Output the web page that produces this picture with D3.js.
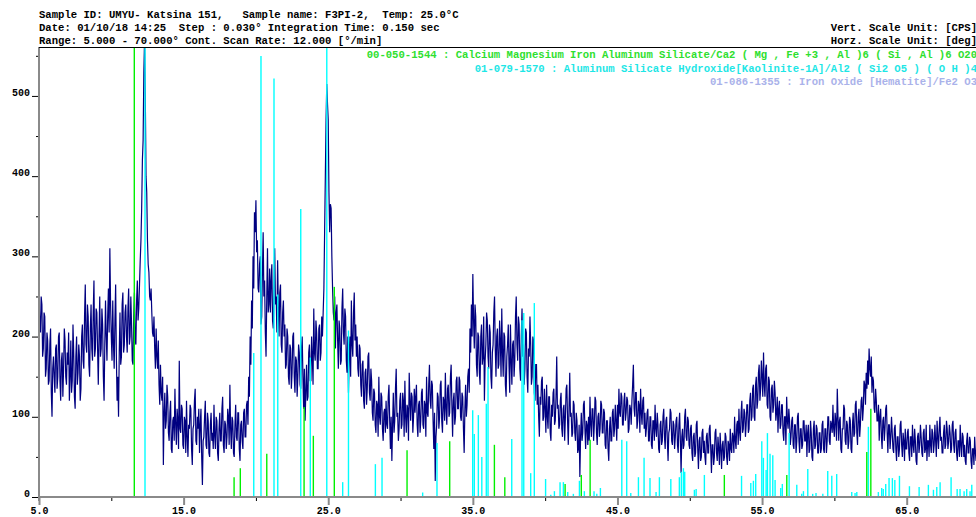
<!DOCTYPE html>
<html>
<head>
<meta charset="utf-8">
<script src="https://cdn.jsdelivr.net/npm/d3@7"></script>
<style>
  html, body { margin: 0; padding: 0; background: #fff; }
  svg { display: block; }
  text { font-family: "Liberation Mono", "DejaVu Sans Mono", monospace; }
</style>
</head>
<body>
<svg id="chart" width="976" height="517"></svg>
<script>
// Scan: readings every 0.05 deg; one row per whole degree of 2-theta (5 .. 69), plus the 70.0 end point
const firstDegree = 5;
const readingStep = 0.05;

// Counts (CPS) per degree row
const countRows = [
  [255,215,205,250,240,175,185,230,225,150,160,205,195,140,145,190,210,130,100,160], // 5
  [175,150,130,185,190,135,150,200,205,145,120,170,180,125,160,210,195,150,140,180], // 6
  [165,205,120,150,195,130,145,215,180,125,110,175,200,140,155,190,175,120,135,200], // 7
  [215,170,160,225,265,190,180,240,225,165,150,210,240,185,170,230,270,175,185,235], // 8
  [230,185,140,200,250,175,185,235,215,150,120,190,245,200,170,225,260,205,310,240], // 9
  [200,170,245,190,160,220,265,175,120,150,100,180,230,165,175,240,255,180,190,230], // 10
  [240,200,180,235,260,190,200,250,215,170,165,225,255,195,190,245,270,220,235,265], // 11
  [295,320,360,420,445,530,570,500,400,380,320,290,280,250,245,260,230,205,200,225], // 12
  [185,160,210,175,160,195,140,115,165,130,120,150,40,105,130,85,95,140,125,80],     // 13
  [70,105,120,60,55,95,100,70,135,90,65,110,95,60,170,85,80,115,110,65],             // 14
  [60,100,95,55,120,75,50,90,85,115,110,60,40,85,90,120,135,70,65,100],              // 15
  [85,110,55,90,110,50,15,70,75,100,120,65,60,105,95,55,50,90,105,70],               // 16
  [80,60,115,75,60,100,95,55,45,85,105,70,70,110,125,65,55,95,90,60],                // 17
  [75,110,100,65,140,85,60,100,95,55,50,90,115,75,70,105,105,60,45,90],              // 18
  [95,70,60,105,110,75,75,115,120,90,150,125,200,165,245,210,300,260,355,330],       // 19
  [370,305,320,260,255,290,300,215,225,280,330,250,270,205,175,250,310,230,240,285], // 20
  [230,270,290,220,210,260,310,240,250,205,295,235,200,255,265,190,180,230,245,200], // 21
  [215,160,165,210,200,150,140,190,185,135,155,200,205,150,130,175,170,125,150,190], // 22
  [180,140,135,185,200,150,110,160,95,130,165,120,125,180,190,145,145,200,175,140],  // 23
  [235,180,170,220,205,160,160,210,215,170,180,225,200,230,260,330,400,470,515,490], // 24
  [470,380,330,365,360,300,260,230,220,250,185,230,240,195,160,220,210,165,170,235], // 25
  [260,205,190,235,225,170,155,200,130,175,200,150,245,190,175,230,255,195,215,175], // 26
  [200,160,150,190,185,140,125,165,170,120,110,155,160,115,135,175,180,130,120,160], // 27
  [145,105,95,135,130,90,80,120,115,75,150,100,90,130,125,85,70,105,110,80],         // 28
  [120,90,85,125,140,95,60,100,45,90,130,80,95,135,160,100,105,70,85,120],           // 29
  [130,85,90,130,120,75,145,100,80,115,110,70,155,120,95,130,125,80,100,135],        // 30
  [105,125,140,90,75,115,120,80,95,130,135,90,85,120,115,75,150,105,100,140],        // 31
  [165,120,110,145,140,95,60,105,20,75,90,130,125,85,100,140,145,95,80,125],         // 32
  [120,95,155,110,90,135,140,100,105,150,165,115,75,120,130,90,100,145,150,110],     // 33
  [110,150,145,100,95,130,125,85,55,110,140,100,115,150,160,130,210,180,240,200],    // 34
  [278,220,185,240,225,165,150,205,200,155,140,200,215,165,175,225,120,170,190,230], // 35
  [220,175,160,215,205,150,135,180,190,230,250,185,150,200,210,160,165,220,195,150], // 36
  [235,180,150,205,200,140,125,175,190,215,165,130,215,170,140,190,195,150,170,225], // 37
  [250,190,170,225,215,160,145,200,235,175,190,140,160,210,205,150,130,185,175,225], // 38
  [190,140,150,200,195,130,120,165,165,115,140,100,75,125,115,145,150,95,100,135],   // 39
  [110,80,140,100,85,125,125,80,70,115,100,130,135,90,95,125,175,110,115,85],        // 40
  [90,120,130,85,75,110,115,70,100,135,140,95,65,110,155,100,105,75,80,120],         // 41
  [115,80,70,105,95,55,60,90,25,75,105,70,80,115,120,85,60,95,90,65],                // 42
  [100,70,125,90,75,110,110,70,90,125,120,80,65,100,105,75,85,120,115,80],           // 43
  [80,110,105,65,60,95,95,60,45,85,100,70,70,105,110,75,85,115,95,70],               // 44
  [115,85,135,105,100,130,125,90,90,120,130,95,105,125,120,80,85,115,110,90],        // 45
  [120,140,165,110,100,130,130,85,95,120,115,80,135,105,90,120,125,85,105,75],       // 46
  [85,105,110,70,70,100,100,65,60,95,95,70,115,85,75,105,90,60,55,90],               // 47
  [95,65,70,100,110,75,60,95,100,70,45,80,85,110,105,70,65,95,90,60],                // 48
  [75,95,100,65,55,90,105,70,30,75,85,60,65,100,110,75,70,100,95,65],                // 49
  [60,85,90,55,45,75,80,50,55,90,95,60,35,70,75,45,50,80,85,55],                     // 50
  [70,50,40,75,80,55,55,85,90,60,30,65,65,40,50,80,85,55,45,75],                     // 51
  [60,40,80,60,35,65,70,45,50,80,75,50,40,70,65,45,85,60,55,80],                     // 52
  [75,55,100,70,60,90,95,65,110,80,70,105,120,80,85,110,105,75,90,115],              // 53
  [115,80,85,120,130,95,100,135,140,100,95,140,150,110,120,155,165,120,135,170],     // 54
  [150,125,180,140,125,160,165,115,110,150,145,100,95,135,140,105,115,145,130,95],   // 55
  [105,125,80,110,120,85,90,115,115,80,70,100,100,65,125,95,85,110,95,65],           // 56
  [75,95,100,65,60,90,90,55,70,100,105,70,55,85,85,60,65,95,95,70],                  // 57
  [70,90,50,80,90,55,60,95,80,50,45,85,95,60,65,90,85,55,55,80],                     // 58
  [80,55,60,90,95,60,55,85,85,55,70,100,100,70,65,95,90,80,115,85],                  // 59
  [75,105,95,70,135,100,70,95,100,60,55,85,85,115,110,70,65,95,90,60],               // 60
  [70,100,95,60,55,90,105,75,80,115,120,80,65,100,110,75,90,120,125,95],             // 61
  [110,145,140,115,155,135,170,140,185,160,150,175,130,150,145,110,105,135,120,95],  // 62
  [95,115,70,100,110,75,60,95,100,70,85,110,115,80,55,90,90,60,75,100],              // 63
  [80,60,55,85,90,60,45,75,75,50,60,90,95,65,50,80,70,45,85,60],                     // 64
  [60,80,85,55,45,75,75,50,90,65,55,85,70,45,40,75,80,55,65,90],                     // 65
  [75,55,50,80,85,55,60,90,45,70,70,50,90,65,55,85,80,55,65,90],                     // 66
  [70,50,95,75,60,85,100,70,75,55,55,80,90,60,65,95,85,60,70,90],                    // 67
  [80,55,60,90,95,65,55,80,85,55,45,70,70,50,90,65,50,80,75,50],                     // 68
  [65,45,40,70,80,55,55,75,70,45,35,60,60,40,75,55,45,70,65,45]                      // 69
];
const endCount = 55; // reading at 70.0 deg

// Reference pattern 00-050-1544 (Ca-Mg-Fe-Al silicate): 2-theta and relative intensity (%)
const silicatePos = [11.59,18.49,18.92,20.75,23.33,23.97,25.42,30.45,33.40,36.49,37.21,41.38,42.50,43.11,52.39,56.71,62.24,62.52];
const silicateInt = [100,4.4,6.4,9.6,20,13.6,46.7,10.4,12.4,11.6,4.4,2.9,4.9,12.7,4.9,4.9,10,19.6];

// Reference pattern 01-079-1570 (kaolinite-1A)
const kaolinitePos = [12.33,19.85,20.35,21.25,21.51,23.10,23.76,24.90,26.00,26.40,28.26,28.72,31.53,32.52,
  34.99,35.10,35.38,35.62,35.93,36.05,37.69,38.40,38.52,39.00,39.25,40.03,40.39,40.64,41.03,41.26,41.56,41.95,
  42.37,42.71,43.38,43.57,43.82,45.30,45.64,45.92,46.45,46.84,47.25,47.67,47.90,48.69,49.28,49.42,49.56,49.65,
  50.32,50.44,51.01,53.58,54.22,54.40,54.56,54.98,55.09,55.28,55.37,55.55,55.74,55.90,56.29,56.40,56.87,57.40,
  57.74,57.86,58.16,58.50,58.73,59.20,59.54,59.82,60.16,61.20,61.43,61.55,62.35,63.04,63.27,63.38,63.55,63.78,
  64.01,64.18,64.50,65.19,65.86,66.50,66.85,67.08,67.31,68.07,68.49,68.69,68.97,69.15,69.38,69.50];
const kaoliniteInt = [100,32,98,93,45,64,31,100,3.3,37,7.3,8.7,1,12,
  19.3,14,18.2,8.9,20.7,28.9,12.9,39.3,40.9,5.3,43.1,4,0.5,1.3,3.3,3.3,1.1,0.7,
  3.6,1.3,1.3,0.7,2,12.7,12.4,0.9,4.4,8.7,4.2,1.1,4.4,4,4.4,5.6,6.4,5.6,
  1.6,1.8,4.9,4.7,3.1,3.6,5.1,12.4,8.7,6,14.2,9.6,9.3,3.8,2,2.9,14.2,2.7,
  0.7,1.3,6.2,0.7,0.9,0.7,5.8,4.7,5.1,1.1,0.9,1.1,15.6,1.1,2,1.8,2.9,4.2,
  4.2,3.8,4.7,2.4,2.2,2.7,1.6,2.2,3.3,4.4,1.8,1.8,1.3,1.8,1.3,2.7];

// Axis ticks
const xLabelTicks = [5, 15, 25, 35, 45, 55, 65];
const xMinorTicks = [10, 20, 30, 40, 50, 60, 70];
const yLabelTicks = [0, 100, 200, 300, 400, 500];
const yMinorTicks = [50, 150, 250, 350, 450, 550];

// Header and legend text
const headerLeft = [
  "Sample ID: UMYU- Katsina 151,   Sample name: F3PI-2,  Temp: 25.0\u00B0C",
  "Date: 01/10/18 14:25  Step : 0.030\u00B0 Integration Time: 0.150 sec",
  "Range: 5.000 - 70.000\u00B0 Cont. Scan Rate: 12.000 [\u00B0/min]"
];
const headerRight = ["Vert. Scale Unit: [CPS]", "Horz. Scale Unit: [deg]"];
const legendLabels = [
  "00-050-1544 : Calcium Magnesium Iron Aluminum Silicate/Ca2 ( Mg , Fe +3 , Al )6 ( Si , Al )6 O20",
  "01-079-1570 : Aluminum Silicate Hydroxide[Kaolinite-1A]/Al2 ( Si2 O5 ) ( O H )4",
  "01-086-1355 : Iron Oxide [Hematite]/Fe2 O3"
];
const legendColors = ["#2ee02e", "#1ee6e6", "#aab2ea"];

const svg = d3.select("#chart");
const plotLeft = 39, plotRight = 979, plotTop = 47, plotBottom = 497;

const x = d3.scaleLinear().domain([5, 70]).range([plotLeft, plotRight]);
const y = d3.scaleLinear().domain([0, 561]).range([plotBottom, plotTop]);
const yRel = d3.scaleLinear().domain([0, 100]).range([plotBottom, plotTop]);

svg.append("defs").append("clipPath").attr("id", "plotClip")
  .append("rect").attr("x", plotLeft).attr("y", plotTop)
  .attr("width", plotRight - plotLeft).attr("height", plotBottom - plotTop);

const plot = svg.append("g").attr("clip-path", "url(#plotClip)");

// Measured pattern
const pattern = [];
countRows.forEach((row, r) => row.forEach((c, j) => pattern.push([firstDegree + r + j * readingStep, c])));
pattern.push([70, endCount]);

plot.append("path")
  .datum(pattern)
  .attr("fill", "none")
  .attr("stroke", "#000080")
  .attr("stroke-width", 1.2)
  .attr("d", d3.line().x(d => x(d[0])).y(d => y(d[1])));

// Reference sticks, drawn over the trace
function drawSticks(pos, inten, color) {
  plot.append("g").selectAll("line").data(pos).join("line")
    .attr("x1", d => x(d)).attr("x2", d => x(d))
    .attr("y1", plotBottom).attr("y2", (d, i) => yRel(inten[i]))
    .attr("stroke", color).attr("stroke-width", 1.4);
}
drawSticks(kaolinitePos, kaoliniteInt, "#00ffff");
drawSticks(silicatePos, silicateInt, "#00f000");

// Axes
const fontStyle = g => g.selectAll("text")
  .attr("font-family", "'Liberation Mono', 'DejaVu Sans Mono', monospace")
  .attr("font-size", 10).attr("font-weight", "bold").attr("fill", "#000");

const xAxisMajor = svg.append("g").attr("transform", `translate(0,${plotBottom})`)
  .call(d3.axisBottom(x).tickValues(xLabelTicks).tickSize(8).tickPadding(2).tickFormat(d3.format(".1f")));
xAxisMajor.select(".domain").remove();
xAxisMajor.selectAll("line").attr("stroke", "#8a8a8a").attr("stroke-width", 2);
xAxisMajor.call(fontStyle);

const xAxisMinor = svg.append("g").attr("transform", `translate(0,${plotBottom})`)
  .call(d3.axisBottom(x).tickValues(xMinorTicks).tickSize(4).tickFormat(""));
xAxisMinor.select(".domain").remove();
xAxisMinor.selectAll("line").attr("stroke", "#000").attr("stroke-width", 1);

const yAxisMajor = svg.append("g").attr("transform", `translate(${plotLeft},0)`)
  .call(d3.axisLeft(y).tickValues(yLabelTicks).tickSize(7).tickPadding(2).tickFormat(d3.format("d")));
yAxisMajor.select(".domain").remove();
yAxisMajor.selectAll("line").attr("stroke", "#000").attr("stroke-width", 1);
yAxisMajor.call(fontStyle);
yAxisMajor.selectAll("text").attr("dy", "-0.05em").attr("x", -9);

const yAxisMinor = svg.append("g").attr("transform", `translate(${plotLeft},0)`)
  .call(d3.axisLeft(y).tickValues(yMinorTicks).tickSize(3).tickFormat(""));
yAxisMinor.select(".domain").remove();
yAxisMinor.selectAll("line").attr("stroke", "#000").attr("stroke-width", 1);

// Frame lines
svg.append("line").attr("x1", plotLeft).attr("x2", 976).attr("y1", plotBottom).attr("y2", plotBottom)
  .attr("stroke", "#8a8a8a").attr("stroke-width", 2);
svg.append("line").attr("x1", plotLeft).attr("x2", plotLeft).attr("y1", plotTop).attr("y2", plotBottom + 4)
  .attr("stroke", "#8a8a8a").attr("stroke-width", 2);
svg.append("line").attr("x1", plotLeft).attr("x2", 976).attr("y1", plotTop + 0.5).attr("y2", plotTop + 0.5)
  .attr("stroke", "#000").attr("stroke-width", 1);

// Header
svg.append("g").selectAll("text").data(headerLeft).join("text")
  .attr("x", plotLeft).attr("y", (d, i) => 18 + i * 13)
  .attr("font-size", 10.6).attr("font-weight", "bold").attr("fill", "#000")
  .style("white-space", "pre")
  .text(d => d);
svg.append("g").selectAll("text").data(headerRight).join("text")
  .attr("x", 977).attr("y", (d, i) => 31 + i * 13).attr("text-anchor", "end")
  .attr("font-size", 10.6).attr("font-weight", "bold").attr("fill", "#000")
  .text(d => d);

// Legend of reference patterns
svg.append("g").selectAll("text").data(legendLabels).join("text")
  .attr("x", 977).attr("y", (d, i) => 58 + i * 13.5).attr("text-anchor", "end")
  .attr("font-size", 10.6).attr("font-weight", "bold")
  .attr("fill", (d, i) => legendColors[i])
  .text(d => d);
</script>
</body>
</html>
